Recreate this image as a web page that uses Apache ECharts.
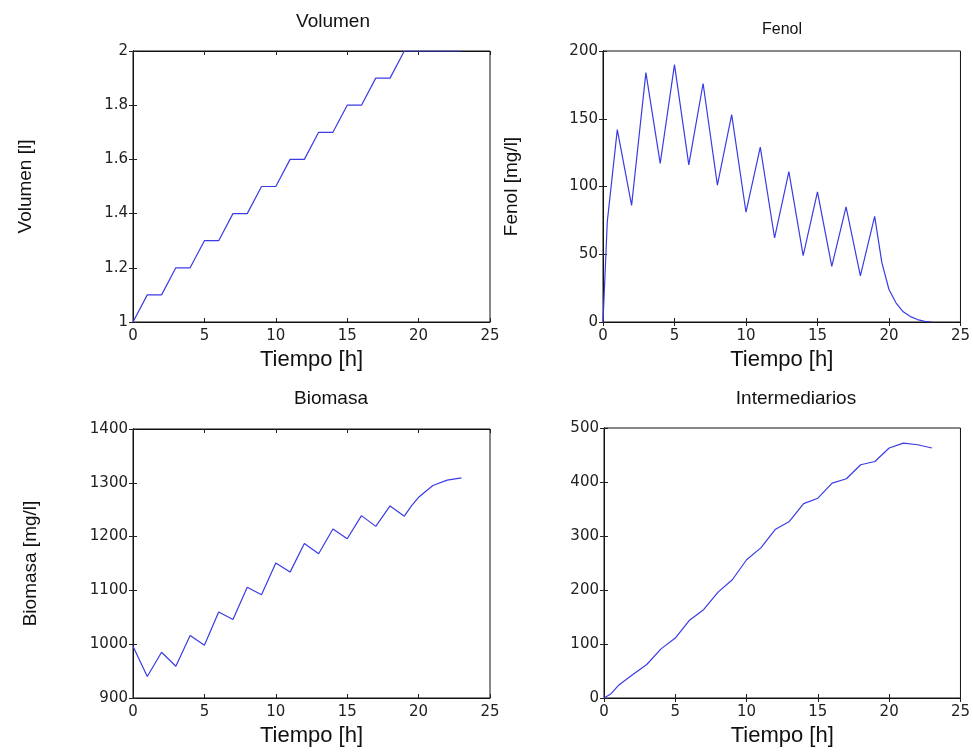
<!DOCTYPE html>
<html>
<head>
<meta charset="utf-8">
<script src="https://cdn.jsdelivr.net/npm/echarts@6/dist/echarts.min.js"></script>
<style>
html, body { margin: 0; padding: 0; background: #fff; }
#main { width: 973px; height: 753px; }
</style>
</head>
<body>
<div id="main"></div>
<script>
// datos
var volT = [0, 1, 2, 3, 4, 5, 6, 7, 8, 9, 10, 11, 12, 13, 14, 15, 16, 17, 18, 19, 23]
var volV = [1, 1.1, 1.1, 1.2, 1.2, 1.3, 1.3, 1.4, 1.4, 1.5, 1.5, 1.6, 1.6, 1.7, 1.7, 1.8, 1.8, 1.9, 1.9, 2, 2]

var fenT = [0, 0.3, 1, 2, 3, 4, 5, 6, 7, 8, 9, 10, 11, 12, 13, 14, 15, 16, 17, 18, 19, 19.5, 20, 20.5, 21, 21.5, 22, 22.5, 23]
var fenV = [0, 74, 142, 86, 184, 117, 190, 116, 176, 101, 153, 81, 129, 62, 111, 49, 96, 41, 85, 34, 78, 44, 24, 14, 7.5, 4, 1.8, 0.5, 0]

var bioT = [0, 1, 2, 3, 4, 5, 6, 7, 8, 9, 10, 11, 12, 13, 14, 15, 16, 17, 18, 19, 19.5, 20, 21, 22, 23]
var bioV = [996, 940, 985, 959, 1016, 998, 1060, 1046, 1106, 1092, 1151, 1134, 1187, 1168, 1214, 1196, 1239, 1219, 1257, 1238, 1257, 1273, 1295, 1305, 1309]

var intT = [0, 0.5, 1, 2, 3, 4, 5, 6, 7, 8, 9, 10, 11, 12, 13, 14, 15, 16, 17, 18, 19, 20, 21, 22, 23]
var intV = [0, 8, 23, 43, 62, 91, 111, 144, 164, 196, 219, 256, 278, 312, 327, 360, 370, 398, 406, 432, 438, 463, 472, 469, 463]

var titulos = ['Volumen', 'Fenol', 'Biomasa', 'Intermediarios']
var yNombres = ['Volumen [l]', 'Fenol [mg/l]', 'Biomasa [mg/l]', '']
var xNombre = 'Tiempo [h]'
var yMin = [1, 0, 900, 0]
var yMax = [2, 200, 1400, 500]
var yPaso = [0.2, 50, 100, 100]

var zip = function(t, v) {
    var r = []
    for (var i = 0; i < t.length; i++) {
        r.push([t[i], v[i]])
    }
    return r
}
var datos = [zip(volT, volV), zip(fenT, fenV), zip(bioT, bioV), zip(intT, intV)]

var grids = [
    {left: 133, top: 51, width: 357, height: 271},
    {left: 603, top: 51, width: 359, height: 271},
    {left: 133, top: 429, width: 357, height: 269},
    {left: 604, top: 428, width: 358, height: 270}
]
var tituloPos = [
    {x: 333, y: 12, size: 19},
    {x: 782, y: 22, size: 16},
    {x: 331, y: 389, size: 19},
    {x: 796, y: 389, size: 19}
]
var yGap = [98, 82, 93, 0]

// etiquetas sin separador de miles
var fmt = function(v) {
    return String(Math.round(v * 1000) / 1000)
}

var tickFont = {fontFamily: 'DejaVu Sans', fontSize: 15, color: '#222', formatter: fmt}
var tick = {show: true, inside: true, length: 4, lineStyle: {color: '#222'}}
var linea = {show: true, lineStyle: {color: '#111', width: 1}}

var option = {
    backgroundColor: '#fff',
    animation: false,
    title: [],
    grid: [],
    xAxis: [],
    yAxis: [],
    series: []
}

for (var i = 0; i < 4; i++) {
    var g = grids[i]
    option.grid.push({left: g.left, top: g.top, width: g.width, height: g.height,
        show: true, borderColor: '#111', borderWidth: 1, backgroundColor: '#fff'})

    option.title.push({
        text: titulos[i],
        left: tituloPos[i].x,
        top: tituloPos[i].y,
        textAlign: 'center',
        padding: 0,
        textStyle: {fontFamily: 'Liberation Sans', fontSize: tituloPos[i].size, fontWeight: 'normal', color: '#111'}
    })

    // eje inferior y superior
    option.xAxis.push({
        type: 'value', gridIndex: i, min: 0, max: 25, interval: 5,
        axisLine: linea, axisTick: tick, splitLine: {show: false},
        axisLabel: Object.assign({margin: 7}, tickFont),
        name: xNombre, nameLocation: 'middle', nameGap: 27,
        nameTextStyle: {fontFamily: 'Liberation Sans', fontSize: 22, color: '#111'}
    })
    option.xAxis.push({
        type: 'value', gridIndex: i, min: 0, max: 25, interval: 5, position: 'top',
        axisLine: linea, axisTick: tick, splitLine: {show: false}, axisLabel: {show: false}
    })

    // eje izquierdo y derecho
    option.yAxis.push({
        type: 'value', gridIndex: i, min: yMin[i], max: yMax[i], interval: yPaso[i],
        axisLine: linea, axisTick: tick, splitLine: {show: false},
        axisLabel: Object.assign({margin: 5}, tickFont),
        name: yNombres[i], nameLocation: 'middle', nameGap: yGap[i],
        nameTextStyle: {fontFamily: 'Liberation Sans', fontSize: 19, color: '#111'}
    })
    option.yAxis.push({
        type: 'value', gridIndex: i, min: yMin[i], max: yMax[i], interval: yPaso[i], position: 'right',
        axisLine: linea, axisTick: tick, splitLine: {show: false}, axisLabel: {show: false}
    })

    option.series.push({
        type: 'line',
        xAxisIndex: i * 2,
        yAxisIndex: i * 2,
        data: datos[i],
        showSymbol: false,
        symbol: 'none',
        lineStyle: {color: '#3b3be6', width: 1.2},
        clip: true
    })
}

var myChart = echarts.init(document.querySelector('#main'))
myChart.setOption(option)
</script>
</body>
</html>
